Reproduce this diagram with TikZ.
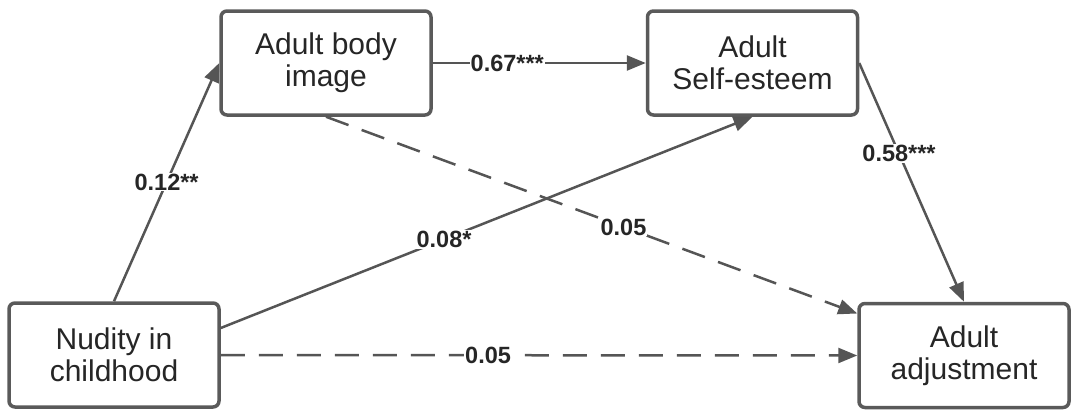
\documentclass[tikz,border=0pt]{standalone}
\usepackage{fontspec}
\setmainfont{Liberation Sans}
\usetikzlibrary{arrows.meta}
\definecolor{linegray}{HTML}{555555}
\definecolor{boxgray}{HTML}{5A5A5A}
\definecolor{txt}{HTML}{262626}
\begin{document}
\begin{tikzpicture}[x=1pt,y=-1pt,
  box/.style={draw=boxgray, line width=3.5pt, rounded corners=6pt, fill=white,
    minimum width=210pt, minimum height=104pt, align=center, text=txt,
    font=\fontsize{30}{32}\selectfont, inner sep=0pt},
  arr/.style={draw=linegray, line width=2.5pt, -{Triangle[length=19pt,width=15pt]}},
  dsh/.style={arr, dash pattern=on 24pt off 14pt},
  lab/.style={fill=white, inner sep=1pt, text=txt, font=\fontsize{23.5}{25}\selectfont\bfseries}]
\useasboundingbox (0,0) rectangle (1074,410);
\node[box] (body) at (326,63) {Adult body\\image};
\node[box] (se) at (752.5,63) {Adult\\Self-esteem};
\node[box] (nud) at (114,355) {Nudity in\\childhood};
\node[box] (adj) at (964,355.5) {Adult\\adjustment};
\draw[arr] (nud.north) -- (body.west) node[lab,pos=0.5] {0.12**};
\draw[arr] (body.east) -- (se.west) node[lab,pos=0.35] {0.67***};
\draw[arr] ([yshift=27pt]nud.east) -- (se.south) node[lab,pos=0.42] {0.08*};
\draw[dsh] (body.south) -- ([yshift=42pt]adj.west) node[lab,pos=0.56] {0.05};
\draw[dsh] (nud.east) -- (adj.west) node[lab,pos=0.42] {0.05};
\draw[arr] (se.east) -- (adj.north) node[lab,pos=0.38] {0.58***};
\end{tikzpicture}
\end{document}
